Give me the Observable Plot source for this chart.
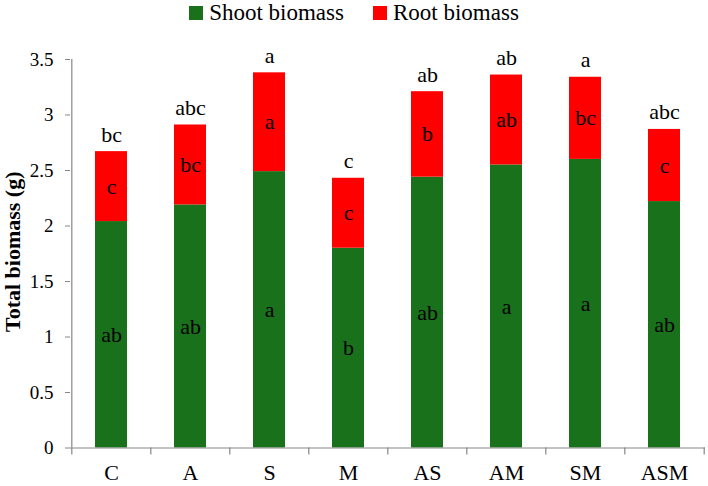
<!DOCTYPE html>
<html>
<head>
<meta charset="utf-8">
<script src="https://cdn.jsdelivr.net/npm/d3@7"></script>
<script src="https://cdn.jsdelivr.net/npm/@observablehq/plot@0.6"></script>
<style>
  html, body { margin: 0; padding: 0; background: #fff; }
  body { width: 708px; height: 486px; overflow: hidden; font-family: "Liberation Serif", Tinos, "Times New Roman", Times, "Nimbus Roman", "DejaVu Serif", serif; }
  #legend { height: 26px; display: flex; justify-content: center; align-items: center; font-size: 23px; color: #000; box-sizing: border-box; }
  #legend .item { display: flex; align-items: center; margin: 0 14.5px; }
  #legend .sw { width: 14px; height: 14px; margin-right: 6px; display: inline-block; }
</style>
</head>
<body>
<div id="legend"></div>
<div id="chart"></div>
<script>
const categories = ["C", "A", "S", "M", "AS", "AM", "SM", "ASM"];
const seriesNames = ["Shoot biomass", "Root biomass"];
const seriesColors = ["#1a711b", "#ff0000"];
const shoot = [2.04, 2.19, 2.49, 1.80, 2.44, 2.55, 2.60, 2.22];
const root  = [0.63, 0.72, 0.89, 0.63, 0.77, 0.81, 0.74, 0.65];
const shootLetters = ["ab", "ab", "a", "b", "ab", "a", "a", "ab"];
const rootLetters  = ["c", "bc", "a", "c", "b", "ab", "bc", "c"];
const totalLetters = ["bc", "abc", "a", "c", "ab", "ab", "a", "abc"];
const yTicks = [0, 0.5, 1, 1.5, 2, 2.5, 3, 3.5];
const yTickLabels = ["0", "0.5", "1", "1.5", "2", "2.5", "3", "3.5"];
const yLabel = "Total biomass (g)";

const serif = "'Liberation Serif', Tinos, 'Times New Roman', Times, 'Nimbus Roman', 'DejaVu Serif', serif";

// legend
const legend = document.getElementById("legend");
seriesNames.forEach((name, i) => {
  const it = document.createElement("span");
  it.className = "item";
  const sw = document.createElement("span");
  sw.className = "sw";
  sw.style.background = seriesColors[i];
  it.appendChild(sw);
  it.appendChild(document.createTextNode(name));
  legend.appendChild(it);
});

const rows = [];
categories.forEach((c, i) => {
  rows.push({cat: c, series: seriesNames[0], value: shoot[i]});
  rows.push({cat: c, series: seriesNames[1], value: root[i]});
});
const shootText = categories.map((c, i) => ({cat: c, y: shoot[i] / 2, t: shootLetters[i]}));
const rootText = categories.map((c, i) => ({cat: c, y: shoot[i] + root[i] / 2, t: rootLetters[i]}));
const totalText = categories.map((c, i) => ({cat: c, y: shoot[i] + root[i], t: totalLetters[i]}));

const W = 708, H = 460;
const mL = 70, mR = 3;
const step = (W - mL - mR) / categories.length;
const gray = "#878787";

const chart = Plot.plot({
  width: W,
  height: H,
  marginLeft: mL,
  marginRight: mR,
  marginTop: 33,
  marginBottom: 38.5,
  style: {fontFamily: serif, fontSize: "19px", color: "#000", background: "#fff"},
  x: {domain: categories, paddingInner: 0.6, paddingOuter: 0.3, label: null},
  y: {domain: [0, 3.5], label: null},
  color: {domain: seriesNames, range: seriesColors},
  marks: [
    Plot.barY(rows, {x: "cat", y: "value", fill: "series", order: seriesNames}),
    Plot.ruleX([categories[0]], {x: d => d, dx: -step / 2, y1: 0, y2: 3.5, stroke: gray, strokeWidth: 1.2}),
    Plot.ruleY([0], {stroke: gray, strokeWidth: 1.2}),
    Plot.ruleX(categories, {x: d => d, dx: -step / 2, y1: 0, y2: -0.063, stroke: gray, strokeWidth: 1.2}),
    Plot.ruleX([categories[categories.length - 1]], {x: d => d, dx: step / 2, y1: 0, y2: -0.063, stroke: gray, strokeWidth: 1.2}),
    Plot.axisY({ticks: yTicks, tickFormat: d => yTickLabels[yTicks.indexOf(d)], tickSize: 5, tickPadding: 12, stroke: gray, label: null, fontSize: 19}),
    Plot.axisX({tickSize: 0, tickPadding: 16, label: null, fontSize: 22}),
    Plot.text(shootText, {x: "cat", y: "y", text: "t", fontSize: 22, fill: "#000"}),
    Plot.text(rootText, {x: "cat", y: "y", text: "t", fontSize: 22, fill: "#000"}),
    Plot.text(totalText, {x: "cat", y: "y", text: "t", fontSize: 22, fill: "#000", dy: -17}),
    Plot.text([yLabel], {frameAnchor: "left", textAnchor: "middle", rotate: -90, dx: -58, dy: -2, text: d => d, fontSize: 22, fontWeight: "bold", fill: "#000"})
  ]
});
document.getElementById("chart").appendChild(chart);
</script>
</body>
</html>
